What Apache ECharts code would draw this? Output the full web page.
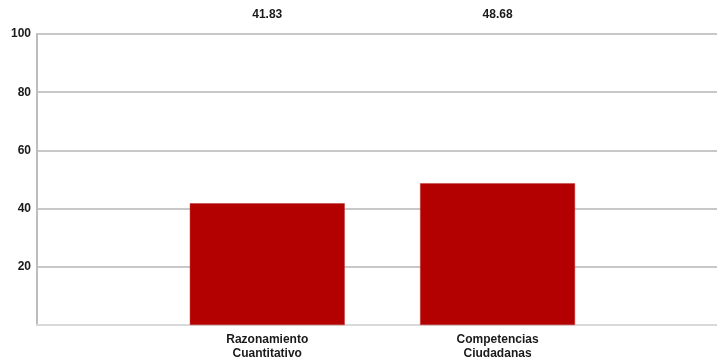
<!DOCTYPE html>
<html>
<head>
<meta charset="utf-8">
<script src="https://cdn.jsdelivr.net/npm/echarts@6/dist/echarts.min.js"></script>
<style>
  html, body { margin: 0; padding: 0; background: #fff; }
  #chart { width: 717px; height: 361px; }
</style>
</head>
<body>
<div id="chart"></div>
<script>
// Subject areas
const categories = ['Razonamiento\nCuantitativo', 'Competencias\nCiudadanas'];
// Average score per area
const scores = [41.83, 48.68];
// Value axis range and steps
const yMin = 0;
const yMax = 100;
const yStep = 20;
// Horizontal slots: areas sit at slots 1 and 2, the plot stops just short of slot 3
const xMin = 0;
const xMax = 2.953;

const FONT = '"Liberation Sans", Arial, sans-serif';

const chart = echarts.init(document.getElementById('chart'), null, { renderer: 'canvas' });

const barData = scores.map((v, i) => [i + 1, v]);
const labelCarrier = scores.map((v, i) => [i + 1, yMax]);

chart.setOption({
  animation: false,
  backgroundColor: '#ffffff',
  grid: { left: 37, right: 0, top: 34, bottom: 36, containLabel: false },
  xAxis: {
    type: 'value',
    min: xMin,
    max: xMax,
    interval: 1,
    axisLine: { show: true, lineStyle: { color: '#d9d9d9', width: 2 } },
    axisTick: { show: false },
    splitLine: { show: false },
    axisLabel: {
      showMinLabel: false,
      showMaxLabel: false,
      margin: 8,
      color: '#1a1a1a',
      fontFamily: FONT,
      fontWeight: 'bold',
      fontSize: 12,
      lineHeight: 14,
      formatter: v => categories[Math.round(v) - 1] || ''
    }
  },
  yAxis: {
    type: 'value',
    min: yMin,
    max: yMax,
    interval: yStep,
    axisLine: { show: true, lineStyle: { color: '#bdbdbd', width: 2 } },
    axisTick: { show: false },
    splitLine: { show: true, lineStyle: { color: '#c8c8c8', width: 2 } },
    axisLabel: {
      margin: 6,
      color: '#1a1a1a',
      fontFamily: FONT,
      fontWeight: 'bold',
      fontSize: 12,
      formatter: v => (v === 0 ? '' : String(v))
    }
  },
  series: [
    {
      type: 'bar',
      data: barData,
      barWidth: 155,
      itemStyle: { color: '#b30000', borderColor: '#c23a3a', borderWidth: 0.5 },
      silent: true,
      z: 3
    },
    {
      // transparent full-height column that carries each score label above the plot
      type: 'bar',
      data: labelCarrier,
      barWidth: 155,
      barGap: '-100%',
      itemStyle: { color: 'rgba(0,0,0,0)' },
      silent: true,
      z: 2,
      label: {
        show: true,
        position: 'top',
        distance: 13,
        color: '#1a1a1a',
        fontFamily: FONT,
        fontWeight: 'bold',
        fontSize: 12,
        formatter: p => scores[p.dataIndex].toFixed(2)
      }
    }
  ]
});
</script>
</body>
</html>
